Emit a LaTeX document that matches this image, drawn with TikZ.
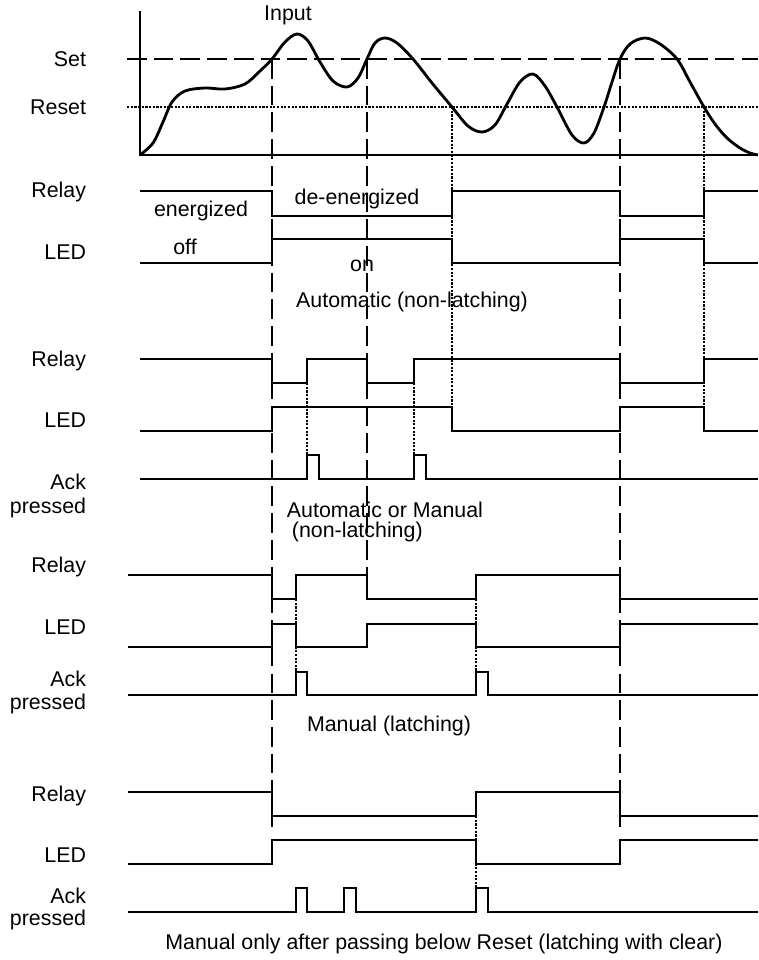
\documentclass[tikz,border=0pt]{standalone}
\usepackage{fontspec}
\setmainfont{Liberation Sans}
\begin{document}
\begin{tikzpicture}[x=0.025cm,y=-0.025cm,font=\fontsize{15.2}{18}\selectfont,line join=miter,
	sig/.style={line width=1.4pt},
	vdash/.style={line width=1.3pt,dash pattern=on 14pt off 5pt},
	vdot/.style={line width=0.8pt,dash pattern=on 1.6pt off 1pt},
	lbl/.style={anchor=east}]
			\useasboundingbox (0,0) rectangle (758,960);
			\draw[sig] (140,11) -- (140,155) -- (758,155);
			\draw[vdash] (127,59) -- (758,59);
			\draw[vdot] (127,107) -- (758,107);
			\draw[line width=2pt] plot[smooth,tension=0.55] coordinates {(140,155) (153,143) (163,122) (172,102) (185,91) (205,88) (225,89) (245,84) (260,71) (272,59) (285,42) (297,34) (308,41) (320,62) (333,81) (347,87) (358,78) (367,59) (375,43) (385,38) (397,43) (413,59) (432,83) (452,107) (468,126) (482,132) (495,125) (507,104) (520,82) (533,74) (545,86) (557,107) (572,135) (584,143) (594,133) (604,107) (612,82) (620,59) (630,44) (645,38) (660,44) (677,59) (690,82) (704,107) (715,124) (727,138) (740,148) (750,153) (758,155)};
			\node[lbl] (set) at (91,59) {Set};
			\node[lbl] (reset) at (91,107) {Reset};
			\node (input) at (288,15) {Input};
			\draw[vdash] (272,59) -- (272,827);
			\draw[vdash] (620,59) -- (620,827);
			\draw[vdash] (367,59) -- (367,575);
			\draw[vdot] (452,107) -- (452,407);
			\draw[vdot] (704,107) -- (704,407);
			\draw[vdot] (307,383) -- (307,455);
			\draw[vdot] (414,383) -- (414,455);
			\draw[vdot] (296,599) -- (296,672);
			\draw[vdot] (476,599) -- (476,672);
			\draw[vdot] (476,816) -- (476,888);
			\node[lbl] (relayA) at (91,192) {Relay};
			\node[lbl] (ledA) at (91,252) {LED};
			\draw[sig] (140,191) -- (272,191) -- (272,216) -- (452,216) -- (452,191) -- (620,191) -- (620,216) -- (704,216) -- (704,191) -- (758,191);
			\draw[sig] (140,263) -- (272,263) -- (272,239) -- (452,239) -- (452,263) -- (620,263) -- (620,239) -- (704,239) -- (704,263) -- (758,263);
			\node (energ) at (201,211) {energized};
			\node (deenerg) at (357,199) {de-energized};
			\node (off) at (185,247) {off};
			\node (on) at (362,266) {on};
			\node (modeA) at (412,302) {Automatic (non-latching)};
			\node[lbl] (relayB) at (91,361) {Relay};
			\node[lbl] (ledB) at (91,420) {LED};
			\node[lbl] (ackB) at (91,482) {Ack};
			\node[lbl] (pressB) at (91,508) {pressed};
			\draw[sig] (140,359) -- (272,359) -- (272,383) -- (307,383) -- (307,359) -- (367,359) -- (367,383) -- (414,383) -- (414,359) -- (620,359) -- (620,383) -- (704,383) -- (704,359) -- (758,359);
			\draw[sig] (140,431) -- (272,431) -- (272,407) -- (452,407) -- (452,431) -- (620,431) -- (620,407) -- (704,407) -- (704,431) -- (758,431);
			\draw[sig] (140,479) -- (307,479) -- (307,455) -- (319,455) -- (319,479) -- (414,479) -- (414,455) -- (426,455) -- (426,479) -- (758,479);
			\node[anchor=west] (modeB) at (282,510) {Automatic or Manual};
			\node[anchor=west] (modeBb) at (287,532) {(non-latching)};
			\node[lbl] (relayC) at (91,567) {Relay};
			\node[lbl] (ledC) at (91,627) {LED};
			\node[lbl] (ackC) at (91,679) {Ack};
			\node[lbl] (pressC) at (91,704) {pressed};
			\draw[sig] (128,575) -- (272,575) -- (272,599) -- (296,599) -- (296,575) -- (367,575) -- (367,599) -- (476,599) -- (476,575) -- (620,575) -- (620,599) -- (758,599);
			\draw[sig] (128,647) -- (272,647) -- (272,624) -- (296,624) -- (296,647) -- (367,647) -- (367,624) -- (476,624) -- (476,647) -- (620,647) -- (620,624) -- (758,624);
			\draw[sig] (128,695) -- (296,695) -- (296,672) -- (307,672) -- (307,695) -- (476,695) -- (476,672) -- (488,672) -- (488,695) -- (758,695);
			\node (modeC) at (389,726) {Manual (latching)};
			\node[lbl] (relayD) at (91,796) {Relay};
			\node[lbl] (ledD) at (91,855) {LED};
			\node[lbl] (ackD) at (91,896) {Ack};
			\node[lbl] (pressD) at (91,920) {pressed};
			\draw[sig] (128,792) -- (272,792) -- (272,816) -- (476,816) -- (476,792) -- (620,792) -- (620,816) -- (758,816);
			\draw[sig] (128,864) -- (272,864) -- (272,840) -- (476,840) -- (476,864) -- (620,864) -- (620,840) -- (758,840);
			\draw[sig] (128,912) -- (296,912) -- (296,888) -- (307,888) -- (307,912) -- (344,912) -- (344,888) -- (356,888) -- (356,912) -- (476,912) -- (476,888) -- (488,888) -- (488,912) -- (758,912);
			\node (modeD) at (444,944) {Manual only after passing below Reset (latching with clear)};
		\end{tikzpicture}
\end{document}
